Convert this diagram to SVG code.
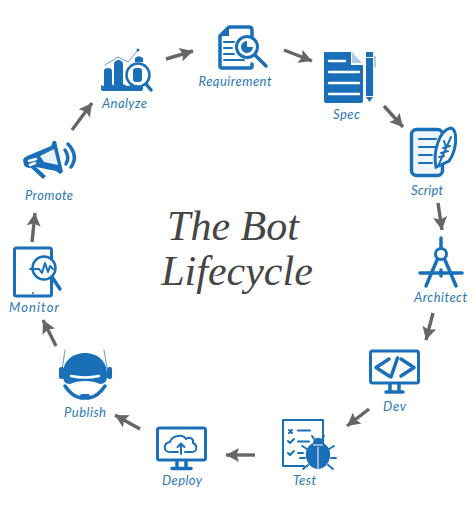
<svg xmlns="http://www.w3.org/2000/svg" width="474" height="506" viewBox="0 0 474 506">
<style>
.l{font-family:"Lato","Liberation Sans",sans-serif;font-style:italic;font-size:13px;fill:#2b78b5;text-anchor:middle}
.t{font-family:"Liberation Serif",serif;font-style:italic;font-size:42px;fill:#454545;text-anchor:middle}
.f{fill:#1a70b8}
.s{fill:none;stroke:#1a70b8;stroke-width:3.5;stroke-linecap:round;stroke-linejoin:round}
.n{fill:none;stroke:#1a70b8;stroke-width:2;stroke-linecap:round;stroke-linejoin:round}
.h{fill:none;stroke:#1a70b8;stroke-width:1;stroke-linecap:round;stroke-linejoin:round;opacity:.7}
.w{fill:none;stroke:#fff;stroke-width:2.500;stroke-linecap:round;stroke-linejoin:round}
.c line{stroke:#666;stroke-width:3.400;marker-end:url(#a)}
</style>
<defs>
<marker id="a" markerUnits="userSpaceOnUse" markerWidth="16" markerHeight="18" refX="13" refY="8" orient="auto">
<path d="M0 1L13 8L0 15L2.500 8Z" fill="#666"/>
</marker>
</defs>
<rect width="474" height="506" fill="#fff"/>
<g id="title">
<text class="t" x="233" y="240">The Bot</text>
<text class="t" x="237" y="285">Lifecycle</text>
</g>
<g id="connectors" class="c">
<line x1="166" y1="59" x2="193" y2="51"/>
<line x1="284" y1="50" x2="312" y2="61"/>
<line x1="384" y1="106" x2="403" y2="127"/>
<line x1="438" y1="203" x2="442" y2="230"/>
<line x1="433" y1="313" x2="426" y2="340"/>
<line x1="369" y1="409" x2="347" y2="426"/>
<line x1="255" y1="455" x2="226" y2="455"/>
<line x1="140" y1="429" x2="115" y2="415"/>
<line x1="56" y1="346" x2="43" y2="320"/>
<line x1="32" y1="242" x2="35" y2="213"/>
<line x1="72" y1="130" x2="92" y2="103"/>
</g>
<g id="analyze">
<path class="h" d="M105 65L118 57L128 62L138 50"/>
<circle class="f" cx="138" cy="50" r="1.500"/>
<path class="f" d="M104 87V71a4 3 0 0 1 8 0V87ZM114 87V64a4.500 4 0 0 1 9 0V87ZM135 62V58l4-2 4 2v4Z"/>
<path class="f" d="M101 85q3 2 6 0t6 0 6 0 6 0 6 0 6 0 6 0v4a2 2 0 0 1-2 2H103a2 2 0 0 1-2-2Z"/>
<circle cx="138" cy="75" r="11.500" fill="#fff" stroke="#1a70b8" stroke-width="2.500"/>
<rect class="f" x="133" y="68" width="9" height="14" rx="3"/>
<path class="s" d="M146 84L151 90" stroke-width="2.500"/>
<text class="l" x="124.500" y="108" textLength="45">Analyze</text>
</g>
<g id="requirement">
<path class="s" d="M229 27H249Q252 27 252 30V38M229 27L220 36V66Q220 68 222 68H250Q252 68 252 66V64"/>
<path class="f" d="M229 27V36H220Z"/>
<path class="n" d="M224 42H234M224 48H232M224 54H234M224 60H244"/>
<circle cx="247" cy="47" r="10.500" fill="#fff" stroke="#1a70b8" stroke-width="3"/>
<path class="f" d="M247 41a6 6 0 1 0 6 6h-6Z"/>
<path class="s" d="M255 55L266 66" stroke-width="4"/>
<text class="l" x="235" y="86" textLength="73">Requirement</text>
</g>
<g id="spec">
<path class="f" d="M325 52H351V65H363V101a2 2 0 0 1-2 2H326a2 2 0 0 1-2-2V53a1 1 0 0 1 1-1Z"/>
<path class="f" d="M352 52L362 63H352Z" opacity=".35"/>
<path class="w" d="M329 61H345M329 72H359M329 83H359M329 94H359"/>
<path class="f" d="M366 52H373V57H366ZM366 58H373V96H366ZM366 97H373L369.500 102Z"/>
<path class="h" d="M375 56V67"/>
<text class="l" x="346.500" y="119" textLength="27">Spec</text>
</g>
<g id="script">
<rect x="411.500" y="129.500" width="31" height="46" rx="5" fill="#eef5fb" stroke="#1a70b8" stroke-width="3.500"/>
<path class="n" d="M419 139H436M419 147H436M419 155H432M419 163H432" stroke-width="1.500"/>
<path d="M451 128C458 130 457 150 449 161L436 167C433 152 439 130 451 128Z" fill="#fff" stroke="#1a70b8" stroke-width="3"/>
<path class="n" d="M451 137L439 164M443 148L450 146M441 153L448 151M444 141L446 147M439 157L444 156" stroke-width="1.300"/>
<text class="l" x="427" y="195" textLength="32">Script</text>
</g>
<g id="architect">
<path class="s" d="M441 238V247" stroke-width="3"/>
<circle cx="441" cy="254" r="5.500" fill="none" stroke="#1a70b8" stroke-width="3"/>
<path class="s" d="M437 260L426 286M445 260L456 286" stroke-width="2.800"/>
<path class="s" d="M420 273H462" stroke-width="2"/>
<path class="s" d="M441 270V276" stroke-width="1.500"/>
<text class="l" x="440.500" y="302" textLength="53">Architect</text>
</g>
<g id="dev">
<rect x="370.500" y="351" width="48" height="32" rx="2" fill="none" stroke="#1a70b8" stroke-width="3"/>
<path class="s" d="M389 359L376 367.500L389 376M401 359L414 367.500L401 376" stroke-width="3.200"/>
<path class="s" d="M397.500 358L391 377" stroke-width="2.800"/>
<path class="s" d="M390 384V391M399 384V391" stroke-width="2.500"/>
<path class="s" d="M386 392H403" stroke-width="2.500"/>
<text class="l" x="394.500" y="411" textLength="23">Dev</text>
</g>
<g id="test">
<path class="n" d="M323 445V420H283V466H304" stroke-width="2.500"/>
<path class="n" d="M289 430L292 433M292 430L289 433M298 430.500H310M288 441L290 443L294 439M298 441.500H309M288 453L290 455L294 451M298 453H303" stroke-width="1.800"/>
<path class="f" d="M318 438c3 0 5 2 5 5 5 2 8 8 7 14-1 7-6 12-12 12s-11-5-12-12c-1-6 2-12 7-14 0-3 2-5 5-5Z"/>
<path class="n" d="M307 449L302 446M329 449L334 446M305 458H300M331 458H336M308 465L303 469M328 465L333 469M314 439L312 436M322 439L324 436" stroke-width="1.800"/>
<path d="M318 447V469M313 445H323" stroke="#fff" stroke-width="1"/>
<text class="l" x="304.500" y="485" textLength="23">Test</text>
</g>
<g id="deploy">
<rect x="157.500" y="428" width="48" height="32" rx="2" fill="none" stroke="#1a70b8" stroke-width="3"/>
<path class="n" d="M178 452H170C163 452 163 443 170 442C172 435 183 434 186 439C190 436 194 439 193 443C198 445 197 452 192 452H185"/>
<path class="n" d="M181 454V444M177.500 447L181 443.500L184.500 447"/>
<path class="s" d="M177 461V468M186 461V468" stroke-width="2.500"/>
<path class="s" d="M172 468.500H191" stroke-width="2.500"/>
<text class="l" x="182" y="485" textLength="40">Deploy</text>
</g>
<g id="publish">
<path class="h" d="M65 350L62 370M104 350L107 368" stroke-width="1.200"/>
<path class="f" d="M63 376C62 362 72 353 85 353C98 353 108 362 107 376C107 381 105 384 100 384C92 380 78 380 70 384C65 384 63 381 63 376Z"/>
<rect class="f" x="59" y="367" width="5" height="12" rx="2"/>
<rect class="f" x="107" y="367" width="5" height="12" rx="2"/>
<path class="w" d="M71 376Q85 379 99 376" stroke-width="1.500"/>
<path class="s" d="M65 386C69 392 75 397 81 398H89C95 397 101 392 105 386" stroke-width="2.500"/>
<rect class="f" x="80" y="394" width="10" height="5" rx="2"/>
<text class="l" x="85" y="417" textLength="42">Publish</text>
</g>
<g id="monitor">
<rect x="14.500" y="248" width="37" height="48" rx="2" fill="none" stroke="#1a70b8" stroke-width="3"/>
<circle class="f" cx="33" cy="293" r="1"/>
<circle cx="44" cy="268" r="11.500" fill="#fff" stroke="#1a70b8" stroke-width="2.500"/>
<path class="n" d="M30 269H39L42 273L45 263L48 272L50 266L53 269" stroke-width="1.500"/>
<path class="s" d="M52 277L60 289" stroke-width="3"/>
<text class="l" x="34" y="312" textLength="50">Monitor</text>
</g>
<g id="promote">
<path class="f" d="M23 160Q24 157 27 156L51 146L53 141L56 141L63 172L60 174L56 171L36 167L46 176L43 179L31 168Q25 168 24 165Z"/>
<path class="w" d="M29 161L36 159M30 165L35 163" stroke-width="1.500"/>
<path d="M54 149L58 165L44 162L40 156Z" fill="#fff" opacity=".9"/>
<path class="s" d="M65 150Q70 157 66 164" stroke-width="2.500"/>
<path class="s" d="M68 144Q79 156 71 167" stroke-width="2.500"/>
<text class="l" x="49" y="200" textLength="48">Promote</text>
</g>
</svg>
